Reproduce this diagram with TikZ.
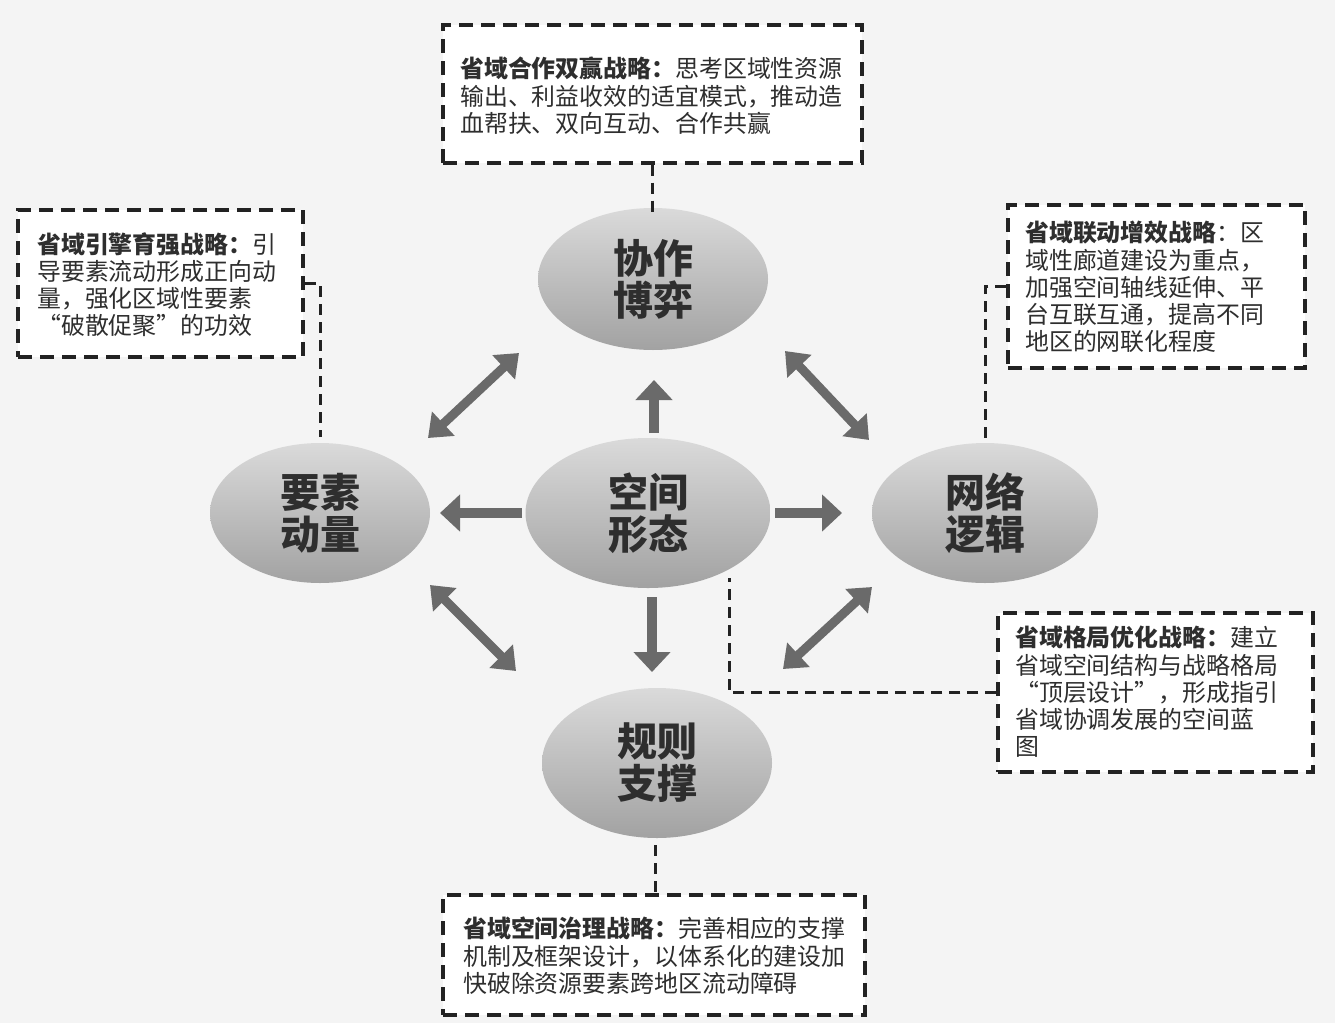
\documentclass[tikz,border=0pt]{standalone}
\usepackage{fontspec}
\setmainfont{Noto Sans CJK SC}
\usetikzlibrary{arrows.meta,shapes.geometric}
\definecolor{bg}{HTML}{F4F4F4}
\definecolor{txt}{HTML}{2E2E2E}
\definecolor{arr}{HTML}{6A6A6A}
\definecolor{dline}{HTML}{222222}
\definecolor{elltop}{HTML}{DADADA}
\definecolor{ellbot}{HTML}{A2A2A2}
\begin{document}
\begin{tikzpicture}[x=1pt,y=-1pt,
  ellip/.style={ellipse, inner sep=0pt, draw=none, top color=elltop, bottom color=ellbot,
    text=txt, align=center, font=\fontsize{40}{42}\selectfont\bfseries},
  dbox/.style={draw=dline, line width=3.4pt, dash pattern=on 14pt off 8pt, fill=white, inner sep=0pt},
  dconn/.style={draw=dline, line width=3pt, dash pattern=on 11pt off 7pt},
  btext/.style={anchor=north west, inner sep=0pt, align=left, text=txt, font=\fontsize{23.9}{27.3}\selectfont},
  arrowone/.style={draw=arr, line width=10pt, -{Triangle[width=36pt,length=20pt]}},
  arrowtwo/.style={draw=arr, line width=9pt, {Triangle[width=32pt,length=21pt]}-{Triangle[width=32pt,length=21pt]}}
]
\fill[bg] (0,0) rectangle (1335,1023);
\useasboundingbox (0,0) rectangle (1335,1023);

% ellipses
\node[ellip, minimum width=230pt, minimum height=142pt] (eT) at (653,279) {协作\\博弈};
\node[ellip, minimum width=245pt, minimum height=150pt] (eC) at (648,513) {空间\\形态};
\node[ellip, minimum width=220pt, minimum height=140pt] (eL) at (320,513) {要素\\动量};
\node[ellip, minimum width=226pt, minimum height=140pt] (eR) at (985,513) {网络\\逻辑};
\node[ellip, minimum width=230pt, minimum height=150pt] (eB) at (657,763) {规则\\支撑};

% arrow end coordinates
\coordinate (uS) at (654,433); \coordinate (uE) at (654,380);
\coordinate (dS) at (652,597); \coordinate (dE) at (652,672);
\coordinate (lS) at (522,513); \coordinate (lE) at (440,513);
\coordinate (rS) at (775,513); \coordinate (rE) at (842,513);
\coordinate (ulA) at (428,438); \coordinate (ulB) at (519,353);
\coordinate (urA) at (785,351); \coordinate (urB) at (869,440);
\coordinate (llA) at (430,585); \coordinate (llB) at (516,671);
\coordinate (lrA) at (783,669); \coordinate (lrB) at (872,587);

\draw[arrowone] (uS) -- (uE);
\draw[arrowone] (dS) -- (dE);
\draw[arrowone] (lS) -- (lE);
\draw[arrowone] (rS) -- (rE);
\draw[arrowtwo] (ulA) -- (ulB);
\draw[arrowtwo] (urA) -- (urB);
\draw[arrowtwo] (llA) -- (llB);
\draw[arrowtwo] (lrA) -- (lrB);

% dashed connector ends
\coordinate (cL) at (320,437);
\coordinate (cR) at (985,440);
\coordinate (cC) at (729,578);
\coordinate (cB) at (655,845);
\coordinate (cT) at (652,218);

% boxes
\node[dbox, minimum width=419pt, minimum height=138pt] (b1) at (652.5,94) {};
\node[dbox, minimum width=285pt, minimum height=147pt] (b2) at (160.5,283.5) {};
\node[dbox, minimum width=297pt, minimum height=163pt] (b3) at (1156.5,286.5) {};
\node[dbox, minimum width=315pt, minimum height=159pt] (b4) at (1155.5,692.5) {};
\node[dbox, minimum width=422pt, minimum height=120pt] (b5) at (654,955) {};

\draw[dconn] (b1.south) -- (b1.south |- cT);
\draw[dconn] (b2.east) -| (cL);
\draw[dconn] (b3.west) -| (cR);
\draw[dconn] (b4.west) -| (cC);
\draw[dconn] (cB) -- (cB |- b5.north);

% texts
\node[btext] (t1) at (460,57) {\textbf{省域合作双赢战略：}思考区域性资源\\输出、利益收效的适宜模式，推动造\\血帮扶、双向互动、合作共赢};
\node[btext] (t2) at (37,232) {\textbf{省域引擎育强战略：}引\\导要素流动形成正向动\\量，强化区域性要素\\“破散促聚”的功效};
\node[btext] (t3) at (1025,221) {\textbf{省域联动增效战略}：区\\域性廊道建设为重点，\\加强空间轴线延伸、平\\台互联互通，提高不同\\地区的网联化程度};
\node[btext] (t4) at (1015,626) {\textbf{省域格局优化战略：}建立\\省域空间结构与战略格局\\“顶层设计”，形成指引\\省域协调发展的空间蓝\\图};
\node[btext] (t5) at (463,917) {\textbf{省域空间治理战略：}完善相应的支撑\\机制及框架设计，以体系化的建设加\\快破除资源要素跨地区流动障碍};
\end{tikzpicture}
\end{document}
